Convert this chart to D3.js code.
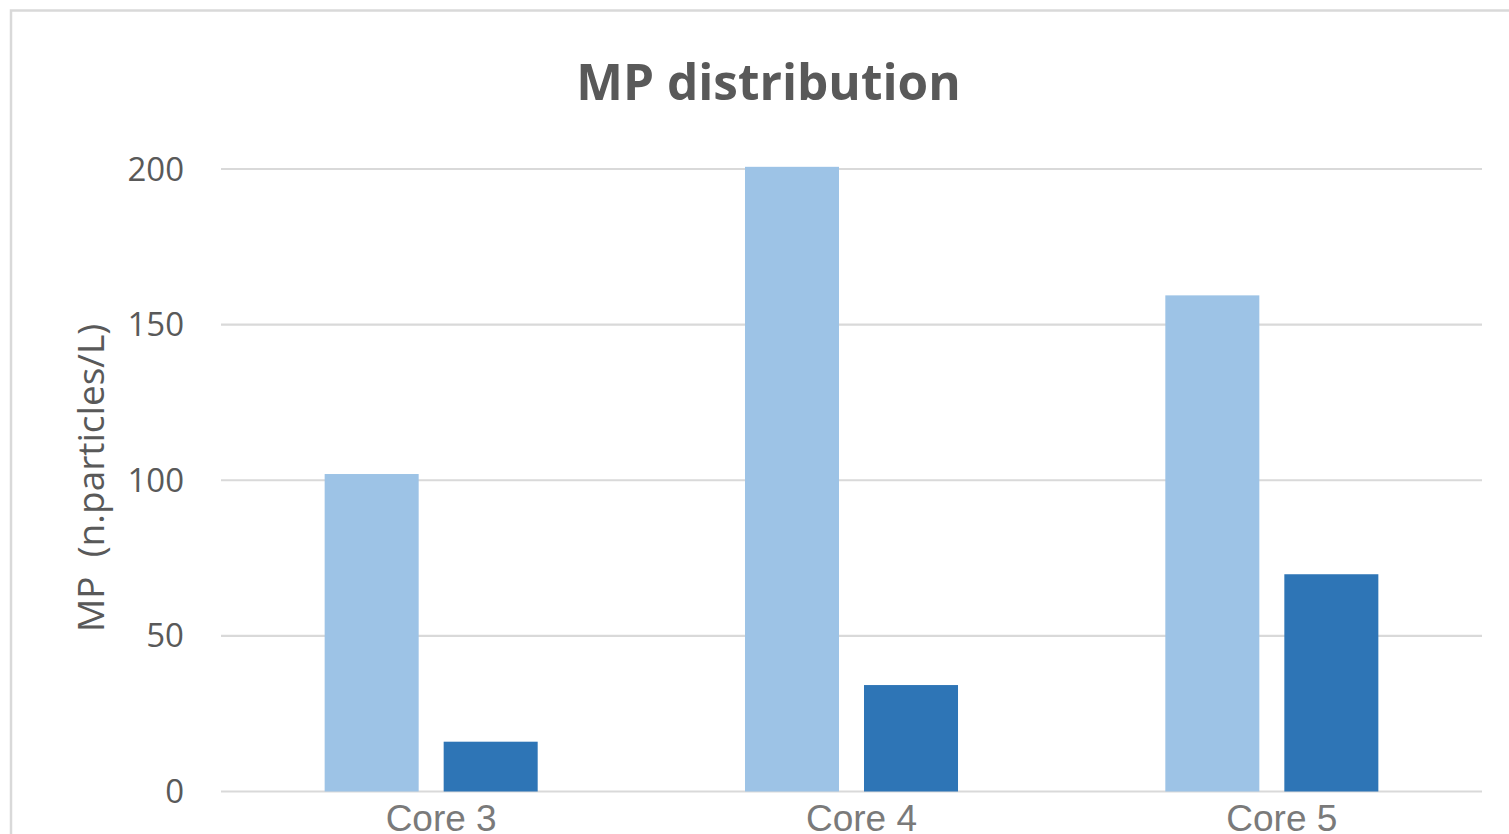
<!DOCTYPE html>
<html>
<head>
<meta charset="utf-8">
<script src="https://cdn.jsdelivr.net/npm/d3@7"></script>
<style>
  html, body { margin: 0; padding: 0; background: #fff; overflow: hidden; }
  text { white-space: pre; }
</style>
</head>
<body>
<svg id="chart" width="1509" height="834"></svg>
<script>
const title = "MP distribution";
const yLabel = "MP  (n.particles/L)";
const categories = ["Core 3", "Core 4", "Core 5"];
const seriesNames = ["Series 1", "Series 2"];
const series1 = [102, 200.7, 159.4];
const series2 = [16, 34.2, 69.8];
const yTicks = [0, 50, 100, 150, 200];
const colors = ["#9dc3e6", "#2e75b6"];

const svg = d3.select("#chart");

// chart border
svg.append("rect")
  .attr("x", 11).attr("y", 10.5)
  .attr("width", 1540).attr("height", 900)
  .attr("fill", "#fff")
  .attr("stroke", "#d9d9d9")
  .attr("stroke-width", 2.5);

const plotLeft = 221, plotRight = 1482;
const y = d3.scaleLinear().domain([0, 200]).range([791.5, 169]);
const x0 = d3.scaleBand().domain(categories).range([plotLeft, plotRight])
  .paddingInner(0.4932).paddingOuter(0.4932 / 2);
const x1 = d3.scaleBand().domain(seriesNames).range([0, x0.bandwidth()])
  .paddingInner(0.21).paddingOuter(0);

// gridlines
svg.append("g").selectAll("line").data(yTicks).join("line")
  .attr("x1", plotLeft).attr("x2", plotRight)
  .attr("y1", d => y(d)).attr("y2", d => y(d))
  .attr("stroke", "#d9d9d9").attr("stroke-width", 2.2);

// y tick labels
svg.append("g").selectAll("text").data(yTicks).join("text")
  .attr("x", 184).attr("y", d => y(d))
  .attr("dy", "0.35em")
  .attr("text-anchor", "end")
  .attr("font-family", "'Open Sans', sans-serif")
  .attr("font-size", 33)
  .attr("fill", "#595959")
  .text(d => d);

// bars
const data = categories.map((c, i) => ({ cat: c, vals: [series1[i], series2[i]] }));
const groups = svg.append("g").selectAll("g").data(data).join("g")
  .attr("transform", d => `translate(${x0(d.cat)},0)`);
groups.selectAll("rect").data(d => d.vals.map((v, j) => ({ v, s: seriesNames[j], j })))
  .join("rect")
  .attr("x", d => x1(d.s))
  .attr("width", x1.bandwidth())
  .attr("y", d => y(d.v))
  .attr("height", d => y(0) - y(d.v))
  .attr("fill", d => colors[d.j]);

// x labels
svg.append("g").selectAll("text").data(categories).join("text")
  .attr("x", d => x0(d) + x0.bandwidth() / 2 + 10)
  .attr("y", 831)
  .attr("text-anchor", "middle")
  .attr("font-family", "'Liberation Sans', Arial, sans-serif")
  .attr("font-size", 37)
  .attr("fill", "#7a7a7a")
  .text(d => d);

// title
svg.append("text")
  .attr("x", 768.5).attr("y", 100)
  .attr("text-anchor", "middle")
  .attr("font-family", "'Open Sans', sans-serif")
  .attr("font-weight", "bold")
  .attr("font-size", 49.5)
  .attr("fill", "#595959")
  .text(title);

// y axis label
svg.append("text")
  .attr("transform", `translate(104,478) rotate(-90)`)
  .attr("text-anchor", "middle")
  .attr("font-family", "'Open Sans', sans-serif")
  .attr("font-size", 37)
  .attr("fill", "#595959")
  .text(yLabel);
</script>
</body>
</html>
